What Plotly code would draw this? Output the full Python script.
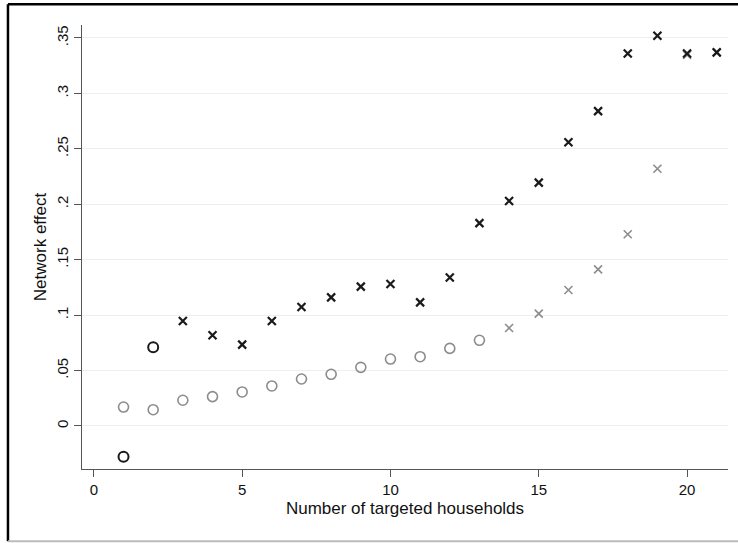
import plotly.graph_objects as go

# Data
x_black_circle = [1, 2]
y_black_circle = [-0.0277, 0.071]

x_black_x = [3, 4, 5, 6, 7, 8, 9, 10, 11, 12, 13, 14, 15, 16, 17, 18, 19, 20, 21]
y_black_x = [0.0947, 0.0818, 0.0734, 0.0947, 0.1073, 0.116, 0.1257, 0.128, 0.1115,
             0.134, 0.183, 0.203, 0.2195, 0.256, 0.284, 0.336, 0.352, 0.336, 0.337]

x_gray_circle = [1, 2, 3, 4, 5, 6, 7, 8, 9, 10, 11, 12, 13]
y_gray_circle = [0.0171, 0.0147, 0.0232, 0.0265, 0.0307, 0.0361, 0.0424, 0.0466,
                 0.0529, 0.0604, 0.0625, 0.070, 0.0773]

x_gray_x = [14, 15, 16, 17, 18, 19, 20, 21]
y_gray_x = [0.0884, 0.1013, 0.1227, 0.1413, 0.173, 0.232, 0.3347, 0.337]

y_tick_vals = [0, 0.05, 0.1, 0.15, 0.2, 0.25, 0.3, 0.35]
y_tick_text = ["0", ".05", ".1", ".15", ".2", ".25", ".3", ".35"]
x_tick_vals = [0, 5, 10, 15, 20]

BLACK = "#1a1a1a"
GRAY = "#8c8c8c"

fig = go.Figure()
fig.add_trace(go.Scatter(x=x_gray_circle, y=y_gray_circle, mode="markers",
                         marker=dict(symbol="circle-open", size=10, color=GRAY,
                                     line=dict(width=1.6, color=GRAY))))
fig.add_trace(go.Scatter(x=x_gray_x, y=y_gray_x, mode="markers",
                         marker=dict(symbol="x-thin-open", size=8, color=GRAY,
                                     line=dict(width=1.6, color=GRAY))))
fig.add_trace(go.Scatter(x=x_black_circle, y=y_black_circle, mode="markers",
                         marker=dict(symbol="circle-open", size=10, color=BLACK,
                                     line=dict(width=2, color=BLACK))))
fig.add_trace(go.Scatter(x=x_black_x, y=y_black_x, mode="markers",
                         marker=dict(symbol="x-thin-open", size=8, color=BLACK,
                                     line=dict(width=2.2, color=BLACK))))

fam = "Liberation Sans, Arial, Helvetica, sans-serif"
tick_font = dict(family=fam, size=15, color="#111111")
title_font = dict(family=fam, size=17, color="#111111")

fig.update_layout(
    width=738, height=543,
    margin=dict(l=82, r=10, t=25, b=74),
    paper_bgcolor="white", plot_bgcolor="white",
    showlegend=False,
    font=tick_font,
    xaxis=dict(range=[-0.4, 21.38], tickvals=x_tick_vals, showgrid=False, zeroline=False,
               showline=True, linecolor="#555555", linewidth=1.2,
               ticks="outside", ticklen=7, tickcolor="#555555", tickwidth=1.2,
               title=dict(text="Number of targeted households", standoff=5, font=title_font),
               tickfont=tick_font),
    yaxis=dict(range=[-0.0388, 0.3617], tickvals=y_tick_vals, ticktext=y_tick_text,
               tickangle=-90, showgrid=True, gridcolor="#e8f0f2", gridwidth=1.2,
               zeroline=False, showline=True, linecolor="#555555", linewidth=1.2,
               ticks="outside", ticklen=7, tickcolor="#555555", tickwidth=1.2,
               title=dict(text="Network effect", standoff=2, font=title_font),
               tickfont=tick_font),
    shapes=[
        dict(type="line", xref="paper", yref="paper", x0=-0.1146, x1=1.02, y0=1.047, y1=1.047,
             line=dict(color="black", width=2.5)),
        dict(type="line", xref="paper", yref="paper", x0=-0.1146, x1=-0.1146, y0=1.047, y1=-0.163,
             line=dict(color="black", width=2.5)),
        dict(type="line", xref="paper", yref="paper", x0=-0.1146, x1=1.02, y0=-0.163, y1=-0.163,
             line=dict(color="#bbbbbb", width=2)),
    ],
)

fig.write_html("out.html", config={"displayModeBar": False},
               post_script="document.body.style.margin='0';")
